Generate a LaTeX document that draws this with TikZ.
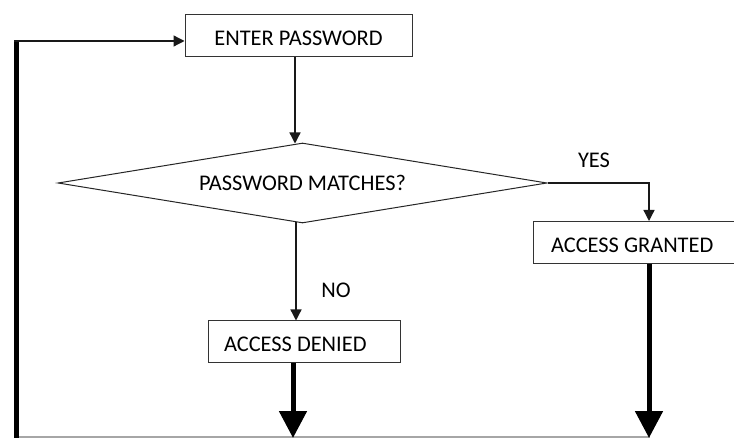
\documentclass[tikz,border=0pt]{standalone}
\usepackage{fontspec}
\setmainfont{Carlito}
\usetikzlibrary{arrows.meta,shapes.geometric}
\begin{document}
\begin{tikzpicture}[x=1pt,y=-1pt,
  every node/.style={font=\fontsize{22.4}{26}\selectfont},
  boxnode/.style={draw=black!80,line width=1pt,rectangle,minimum height=42pt,text height=20pt,text depth=0pt,align=flush left},
  decision/.style={draw=black!85,line width=1pt,diamond,aspect=6.1,minimum width=489pt,minimum height=80pt,inner sep=0pt},
  thinarrow/.style={draw=black!90,line width=1.3pt,-{Triangle[length=11pt,width=11pt]}},
  thickarrow/.style={draw=black,line width=5pt,-{Triangle[length=27pt,width=27pt]}},
  lbl/.style={inner sep=0pt}
]
\useasboundingbox (0,0) rectangle (734,438);
\fill[white] (0,0) rectangle (734,438);

\node[boxnode,minimum width=227pt,align=center] (enter) at (298.5,36) {ENTER PASSWORD};
\node[decision] (dia) at (302.5,183) {PASSWORD MATCHES?};
\node[boxnode,minimum width=192pt,inner xsep=16pt,text width=160pt] (denied) at (304,342) {ACCESS DENIED};
\node[boxnode,minimum width=207pt,inner xsep=18pt,text width=171pt] (granted) at (636.5,242.5) {ACCESS GRANTED};

\node[lbl] (yes) at (594,160) {YES};
\node[lbl] (no) at (336,290) {NO};

\coordinate (loopbottom) at (16.5,438);
\coordinate (looptop) at (16.5,41);
\coordinate (grantedend) at (649,438);
\coordinate (deniedend) at (293,438);
\coordinate (bottomleft) at (16.5,437);
\coordinate (bottomright) at (650,437);
\coordinate (nox) at (296,222);

% bottom return line
\draw[black!35,line width=1.2pt] (bottomleft) -- (bottomright);

% enter -> decision
\draw[thinarrow] ([xshift=-3.5pt]enter.south) -- ([xshift=-3.5pt,yshift=-1pt]enter.south |- dia.north);
% NO branch
\draw[thinarrow] (nox) -- (nox |- denied.north);
% YES branch
\draw[thinarrow] (dia.east) -| ([xshift=12.5pt]granted.north);

% thick arrows down
\draw[thickarrow] ([xshift=12.5pt]granted.south) -- (grantedend);
\draw[thickarrow] ([xshift=-11pt]denied.south) -- (deniedend);

% loop back
\draw[black,line width=5pt] (loopbottom) -- (looptop);
\draw[thinarrow] ([xshift=-2.5pt]looptop) -- (enter.west |- looptop);
\end{tikzpicture}
\end{document}
